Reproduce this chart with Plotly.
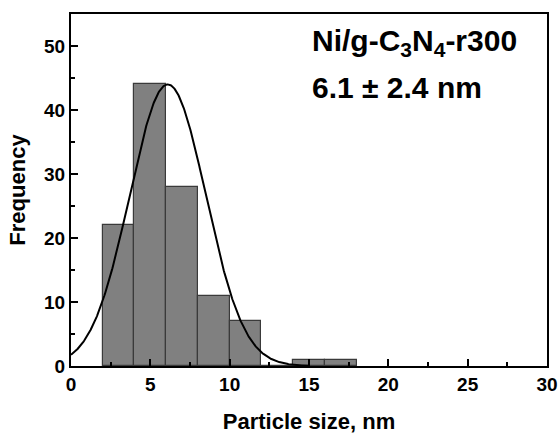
import numpy as np
import plotly.graph_objects as go

# Histogram data (bin edges in nm, counts)
bin_left = [2, 4, 6, 8, 10, 12, 14, 16]
bin_width = 2
counts = [22, 44, 28, 11, 7, 0, 1, 1]

# Gaussian fit parameters (from the label)
fit_mean = 6.1
fit_sd = 2.4
fit_amp = 44

x_ticks = [0, 5, 10, 15, 20, 25, 30]
y_ticks = [0, 10, 20, 30, 40, 50]

centers = [b + bin_width / 2 for b in bin_left]
xf = np.linspace(0, 15, 400)
yf = fit_amp * np.exp(-((xf - fit_mean) ** 2) / (2 * fit_sd ** 2))

font = "Liberation Sans, Arial, sans-serif"

fig = go.Figure()
fig.add_trace(go.Bar(
    x=centers, y=counts, width=[bin_width] * len(centers),
    marker=dict(color="#808080", line=dict(color="#3a3a3a", width=1.2)),
    showlegend=False,
))
fig.add_trace(go.Scatter(
    x=xf, y=yf, mode="lines", line=dict(color="black", width=2),
    showlegend=False, cliponaxis=True,
))

axis_common = dict(
    showgrid=False, zeroline=False, showline=True, linecolor="black", linewidth=2,
    mirror=True, ticks="inside", ticklen=7, tickwidth=2, tickcolor="black",
    tickfont=dict(family=font, size=19, color="black"), automargin=False,
)

fig.update_layout(
    width=559, height=435,
    margin=dict(l=71, r=12, t=14, b=69),
    plot_bgcolor="white", paper_bgcolor="white",
    bargap=0,
    xaxis=dict(
        range=[0, 30], tickvals=x_ticks, ticktext=["<b>%d</b>" % v for v in x_ticks],
        minor=dict(ticks="inside", ticklen=4, tickwidth=2, tickcolor="black", dtick=2.5, tick0=0),
        title=dict(text="<b>Particle size, nm</b>", font=dict(family=font, size=22, color="black"), standoff=20),
        **axis_common,
    ),
    yaxis=dict(
        range=[0, 55], tickvals=y_ticks, ticktext=["<b>%d</b>" % v for v in y_ticks],
        minor=dict(ticks="inside", ticklen=4, tickwidth=2, tickcolor="black", dtick=5, tick0=0),
        title=dict(text="<b>Frequency</b>", font=dict(family=font, size=22, color="black"), standoff=12),
        **axis_common,
    ),
    annotations=[
        dict(x=0.503, y=0.919, xref="paper", yref="paper", xanchor="left", yanchor="middle",
             text="<b>Ni/g-C<sub>3</sub>N<sub>4</sub>-r300</b>", showarrow=False,
             font=dict(family=font, size=30, color="black")),
        dict(x=0.503, y=0.791, xref="paper", yref="paper", xanchor="left", yanchor="middle",
             text="<b>6.1 ± 2.4 nm</b>", showarrow=False,
             font=dict(family=font, size=30, color="black")),
    ],
)

fig.write_html("out.html")
